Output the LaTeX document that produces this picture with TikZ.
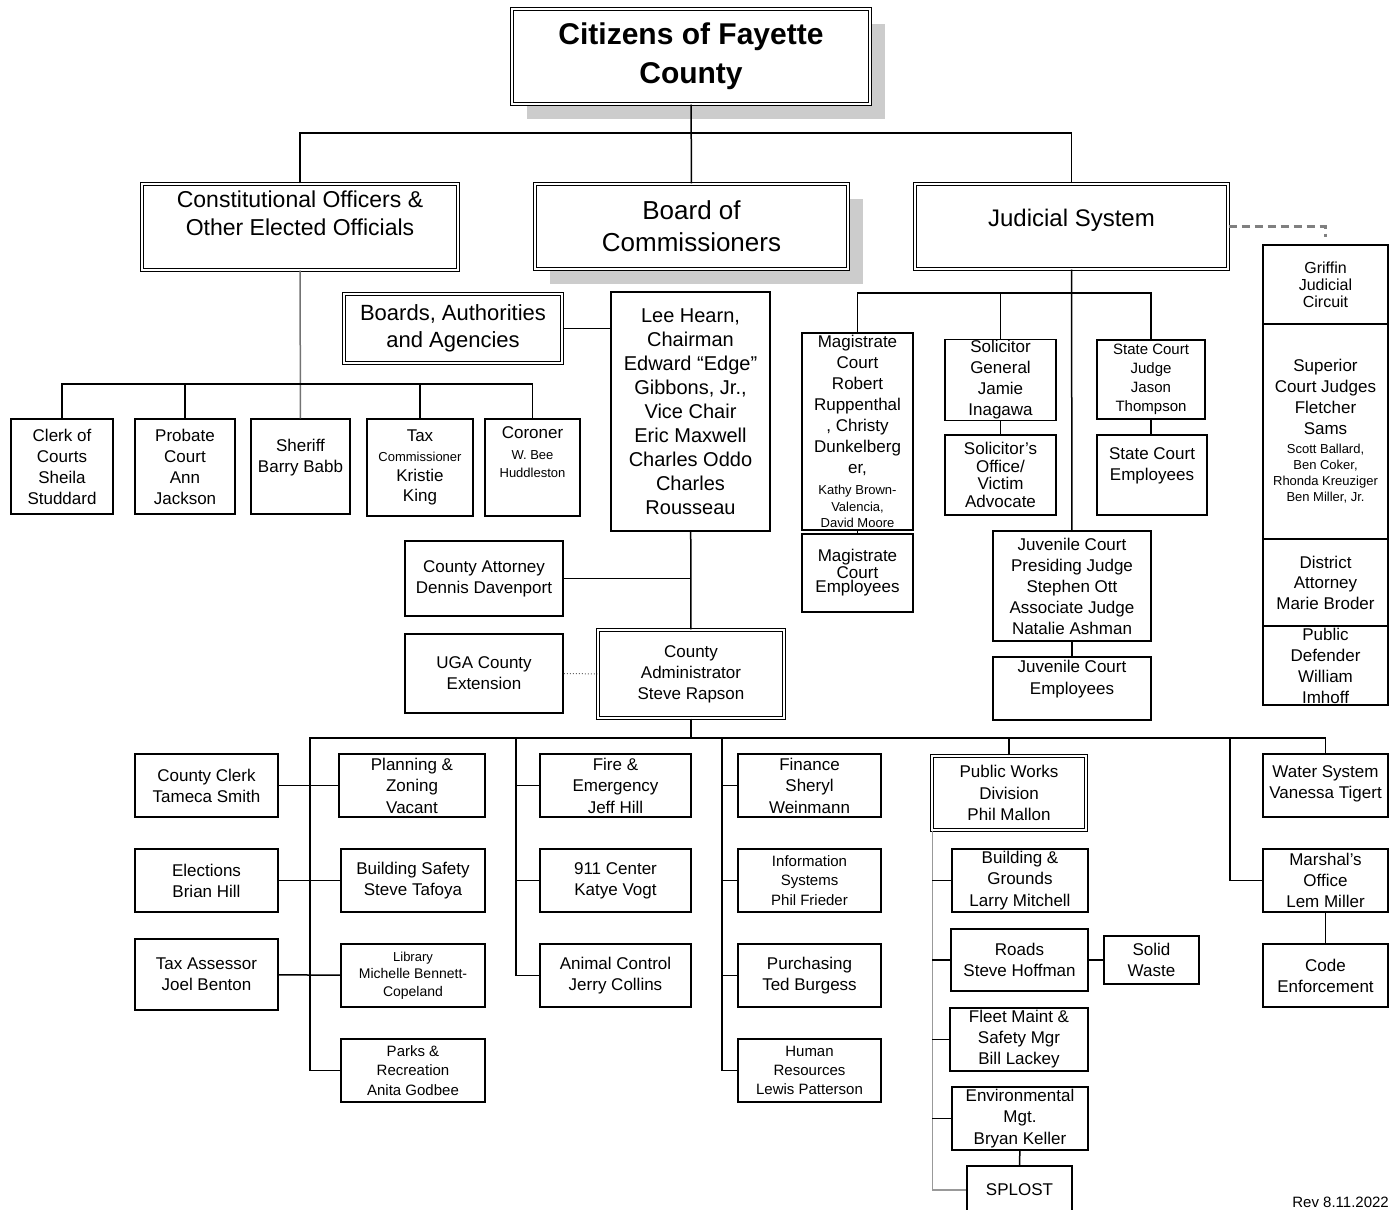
\documentclass[tikz,border=0pt]{standalone}
\usepackage{fontspec}
\setmainfont{Liberation Sans}
\usetikzlibrary{shadows}
\tikzset{
  box/.style={draw, fill=white, line width=1.5pt, align=center, inner sep=1pt, font=\fontsize{17}{21}\selectfont},
  dbox/.style={box, line width=1.1pt, double, double distance=2pt},
  grayshadow/.style={drop shadow={shadow xshift=15pt, shadow yshift=-15pt, fill=black!20, opacity=1}},
  link/.style={line width=1.5pt},
}
\newcommand{\sm}{\fontsize{13}{16}\selectfont}
\begin{document}
\begin{tikzpicture}[x=1pt, y=-1pt]
\useasboundingbox (0,0) rectangle (1395,1210);

% top levels
\node[dbox, grayshadow, line width=1.3pt, minimum width=358, minimum height=95, font=\bfseries\fontsize{30}{39}\selectfont] (cit) at (691,56.5) {Citizens of Fayette\\County};
\node[dbox, minimum width=316, minimum height=86, font=\fontsize{23}{28}\selectfont] (const) at (300,227) {Constitutional Officers \&\\Other Elected Officials\\\mbox{}};
\node[dbox, grayshadow, minimum width=313, minimum height=85, font=\fontsize{26}{32}\selectfont] (board) at (691.5,226.5) {Board of\\Commissioners};
\node[dbox, minimum width=313, minimum height=85, font=\fontsize{24}{28}\selectfont] (judic) at (1071.5,226.5) {Judicial System\\[-11pt]\mbox{}};

\coordinate (top) at (691,133);
\draw[link] (cit) -- (board);
\draw[link] (const.north) |- (top) -| (judic.north);

% constitutional officers
\node[box, minimum width=102, minimum height=95] (clerkc) at (62,466.5) {Clerk of\\Courts\\Sheila\\Studdard};
\node[box, minimum width=100, minimum height=95] (probate) at (185,466.5) {Probate\\Court\\Ann\\Jackson};
\node[box, minimum width=99, minimum height=95] (sheriff) at (300.5,466.5) {Sheriff\\Barry Babb\\\mbox{}};
\node[box, minimum width=106, minimum height=97, font=\fontsize{17}{20}\selectfont] (taxc) at (420,467.5) {Tax\\{\sm Commissioner}\\Kristie\\King};
\node[box, minimum width=95, minimum height=97] (coroner) at (532.5,467.5) {Coroner\\{\sm W. Bee}\\[-3pt]{\sm Huddleston}\\[10pt]\mbox{}};

\coordinate (cbus) at (300,384);
\draw[link, black!55] (const) -- (sheriff);
\draw[link] (clerkc.north) |- (cbus) -| (coroner.north);
\foreach \n in {probate, taxc}
\draw[link] (\n.north) -- (\n.north |- cbus);

% board of commissioners
\node[dbox, minimum width=218, minimum height=69, font=\fontsize{22}{27}\selectfont] (baa) at (453,328.5) {Boards, Authorities\\and Agencies};
\node[box, minimum width=159, minimum height=239, font=\fontsize{20}{24}\selectfont] (lee) at (690.5,411.5) {Lee Hearn,\\Chairman\\Edward “Edge”\\Gibbons, Jr.,\\Vice Chair\\Eric Maxwell\\Charles Oddo\\Charles\\Rousseau};
\node[box, minimum width=158, minimum height=75] (atty) at (484,578.5) {County Attorney\\Dennis Davenport};
\node[box, minimum width=158, minimum height=79] (uga) at (484,673.5) {UGA County\\Extension};
\node[dbox, minimum width=186, minimum height=88] (ca) at (691,674) {County\\Administrator\\Steve Rapson};

\draw[link] (baa.east) -- (baa.east -| lee.west);
\draw[link] (lee) -- (ca);
\draw[link] (atty.east) -- (atty.east -| lee.south);
\draw[line width=1pt, black!60, dotted] (uga) -- (ca);

% judicial system
\node[box, minimum width=111, minimum height=197] (mag) at (857.5,431.5) {Magistrate\\Court\\Robert\\Ruppenthal\\, Christy\\Dunkelberg\\er,\\{\sm Kathy Brown-}\\[-4pt]{\sm Valencia,}\\[-5pt]{\sm David Moore}};
\node[box, minimum width=111, minimum height=78, font=\fontsize{17}{14.5}\selectfont] (mage) at (857.5,573) {Magistrate\\Court\\Employees};
\node[box, minimum width=111, minimum height=80] (solg) at (1000.5,380) {Solicitor\\General\\Jamie\\Inagawa};
\node[box, minimum width=111, minimum height=80, font=\fontsize{17}{17.5}\selectfont] (solo) at (1000.5,475) {Solicitor's\\Office/\\Victim\\Advocate};
\node[box, minimum width=108, minimum height=79, font=\fontsize{15}{19}\selectfont] (scj) at (1151,379.5) {State Court\\Judge\\Jason\\Thompson};
\node[box, minimum width=110, minimum height=80] (sce) at (1152,475) {State Court\\Employees\\\mbox{}};
\node[box, minimum width=158, minimum height=110] (juv) at (1072,586) {Juvenile Court\\Presiding Judge\\Stephen Ott\\Associate Judge\\Natalie Ashman};
\node[box, minimum width=158, minimum height=63, font=\fontsize{17}{22}\selectfont] (juve) at (1072,688.5) {Juvenile Court\\Employees\\\mbox{}};

\node[box, minimum width=125, minimum height=79, font=\fontsize{16}{17}\selectfont] (griffin) at (1325.5,284.5) {Griffin\\Judicial\\Circuit};
\node[box, minimum width=125, minimum height=215] (superior) at (1325.5,431.5) {Superior\\Court Judges\\Fletcher\\Sams\\[-2pt]{\sm Scott Ballard,}\\[-5pt]{\sm Ben Coker,}\\[-5pt]{\sm Rhonda Kreuziger}\\[-5pt]{\sm Ben Miller, Jr.}};
\node[box, minimum width=125, minimum height=87, font=\fontsize{17}{20.5}\selectfont] (da) at (1325.5,582.5) {District\\Attorney\\Marie Broder};
\node[box, minimum width=125, minimum height=79] (pd) at (1325.5,665.5) {Public\\Defender\\William\\Imhoff};

\coordinate (jbus) at (1072,293);
\draw[link] (judic) -- (juv);
\draw[link] (mag.north) |- (jbus) -| (scj.north);
\draw[link] (solg.north) -- (solg.north |- jbus);
\draw[link] (mag) -- (mage);
\draw[link] (solg) -- (solo);
\draw[link] (scj.south) -- (scj.south |- sce.north);
\draw[link] (juv) -- (juve);
\draw[line width=2.2pt, gray, dash pattern=on 8pt off 5pt] (judic.east) -| ([yshift=7pt]griffin.north);

% departments
\node[box, minimum width=143, minimum height=63] (clerk) at (206.5,785.5) {County Clerk\\Tameca Smith};
\node[box, minimum width=143, minimum height=63] (elect) at (206.5,880.5) {Elections\\Brian Hill};
\node[box, minimum width=143, minimum height=71] (assessor) at (206.5,974.5) {\mbox{}\\[-9pt]Tax Assessor\\Joel Benton};
\node[box, minimum width=146, minimum height=63, font=\fontsize{17}{21.5}\selectfont] (plan) at (412,785.5) {Planning \&\\Zoning\\Vacant};
\node[box, minimum width=144, minimum height=63] (bsafe) at (413,880.5) {Building Safety\\Steve Tafoya};
\node[box, minimum width=144, minimum height=63, font=\fontsize{14}{17.5}\selectfont] (lib) at (413,975.5) {{\sm Library}\\Michelle Bennett-\\Copeland};
\node[box, minimum width=144, minimum height=63, font=\fontsize{15}{19.5}\selectfont] (parks) at (413,1070.5) {Parks \&\\Recreation\\Anita Godbee};
\node[box, minimum width=151, minimum height=63, font=\fontsize{17}{21.5}\selectfont] (fire) at (615.5,785.5) {Fire \&\\Emergency\\Jeff Hill};
\node[box, minimum width=151, minimum height=63] (c911) at (615.5,880.5) {911 Center\\Katye Vogt};
\node[box, minimum width=151, minimum height=63] (animal) at (615.5,975.5) {Animal Control\\Jerry Collins};
\node[box, minimum width=143, minimum height=63, font=\fontsize{17}{21.5}\selectfont] (fin) at (809.5,785.5) {Finance\\Sheryl\\Weinmann};
\node[box, minimum width=143, minimum height=63, font=\fontsize{15}{19.5}\selectfont] (info) at (809.5,880.5) {Information\\Systems\\Phil Frieder};
\node[box, minimum width=143, minimum height=63] (purch) at (809.5,975.5) {Purchasing\\Ted Burgess};
\node[box, minimum width=143, minimum height=63, font=\fontsize{15}{19}\selectfont] (hr) at (809.5,1070.5) {Human\\Resources\\Lewis Patterson};
\node[dbox, minimum width=154, minimum height=74, font=\fontsize{17}{21.5}\selectfont] (pw) at (1009,793) {Public Works\\Division\\Phil Mallon};
\node[box, minimum width=136, minimum height=63, font=\fontsize{17}{21.5}\selectfont] (bg) at (1020,880.5) {Building \&\\Grounds\\Larry Mitchell};
\node[box, minimum width=137, minimum height=62] (roads) at (1019.5,960) {Roads\\Steve Hoffman};
\node[box, minimum width=95, minimum height=48] (waste) at (1151.5,960) {Solid\\Waste};
\node[box, minimum width=138, minimum height=63] (fleet) at (1019,1039.5) {Fleet Maint \&\\Safety Mgr\\Bill Lackey};
\node[box, minimum width=136, minimum height=63, font=\fontsize{17}{21.5}\selectfont] (env) at (1020,1118.5) {Environmental\\Mgt.\\Bryan Keller};
\node[box, minimum width=105, minimum height=48] (splost) at (1019.5,1190) {SPLOST};
\node[box, minimum width=125, minimum height=63] (water) at (1325.5,785.5) {\mbox{}\\[-13pt]Water System\\Vanessa Tigert};
\node[box, minimum width=125, minimum height=63] (marshal) at (1325.5,880.5) {Marshal’s\\Office\\Lem Miller};
\node[box, minimum width=125, minimum height=63] (code) at (1325.5,975.5) {Code\\Enforcement};

\coordinate (abus) at (691,738);
\coordinate (lbus) at (310,738);
\coordinate (fbus) at (516,738);
\coordinate (hbus) at (722,738);
\coordinate (mbus) at (1230,738);
\draw[link] (ca) -- (abus);
\draw[link] (water.north) |- (lbus) |- (parks.west);
\draw[link] (clerk) -- (plan);
\draw[link] (elect) -- (bsafe);
\draw[link] (assessor) -- (lib);
\draw[link] (fbus) |- (animal.west);
\foreach \n in {fire, c911}
\draw[link] (fbus |- \n.west) -- (\n.west);
\draw[link] (hbus) |- (hr.west);
\foreach \n in {fin, info, purch}
\draw[link] (hbus |- \n.west) -- (\n.west);
\draw[link] (pw.north) -- (pw.north |- abus);
\draw[link, black!40] ([xshift=1pt]pw.south west) |- (splost.west);
\foreach \n in {bg, roads, fleet, env}
\draw[link] ([xshift=1pt]pw.south west |- \n.west) -- (\n.west);
\draw[link] (roads) -- (waste);
\draw[link] (env) -- (splost);
\draw[link] (mbus) |- (marshal.west);
\draw[link] (marshal) -- (code);

\node[anchor=base east, inner sep=0pt, font=\fontsize{15}{18}\selectfont] (rev) at (1389,1207) {Rev 8.11.2022};
\end{tikzpicture}
\end{document}
